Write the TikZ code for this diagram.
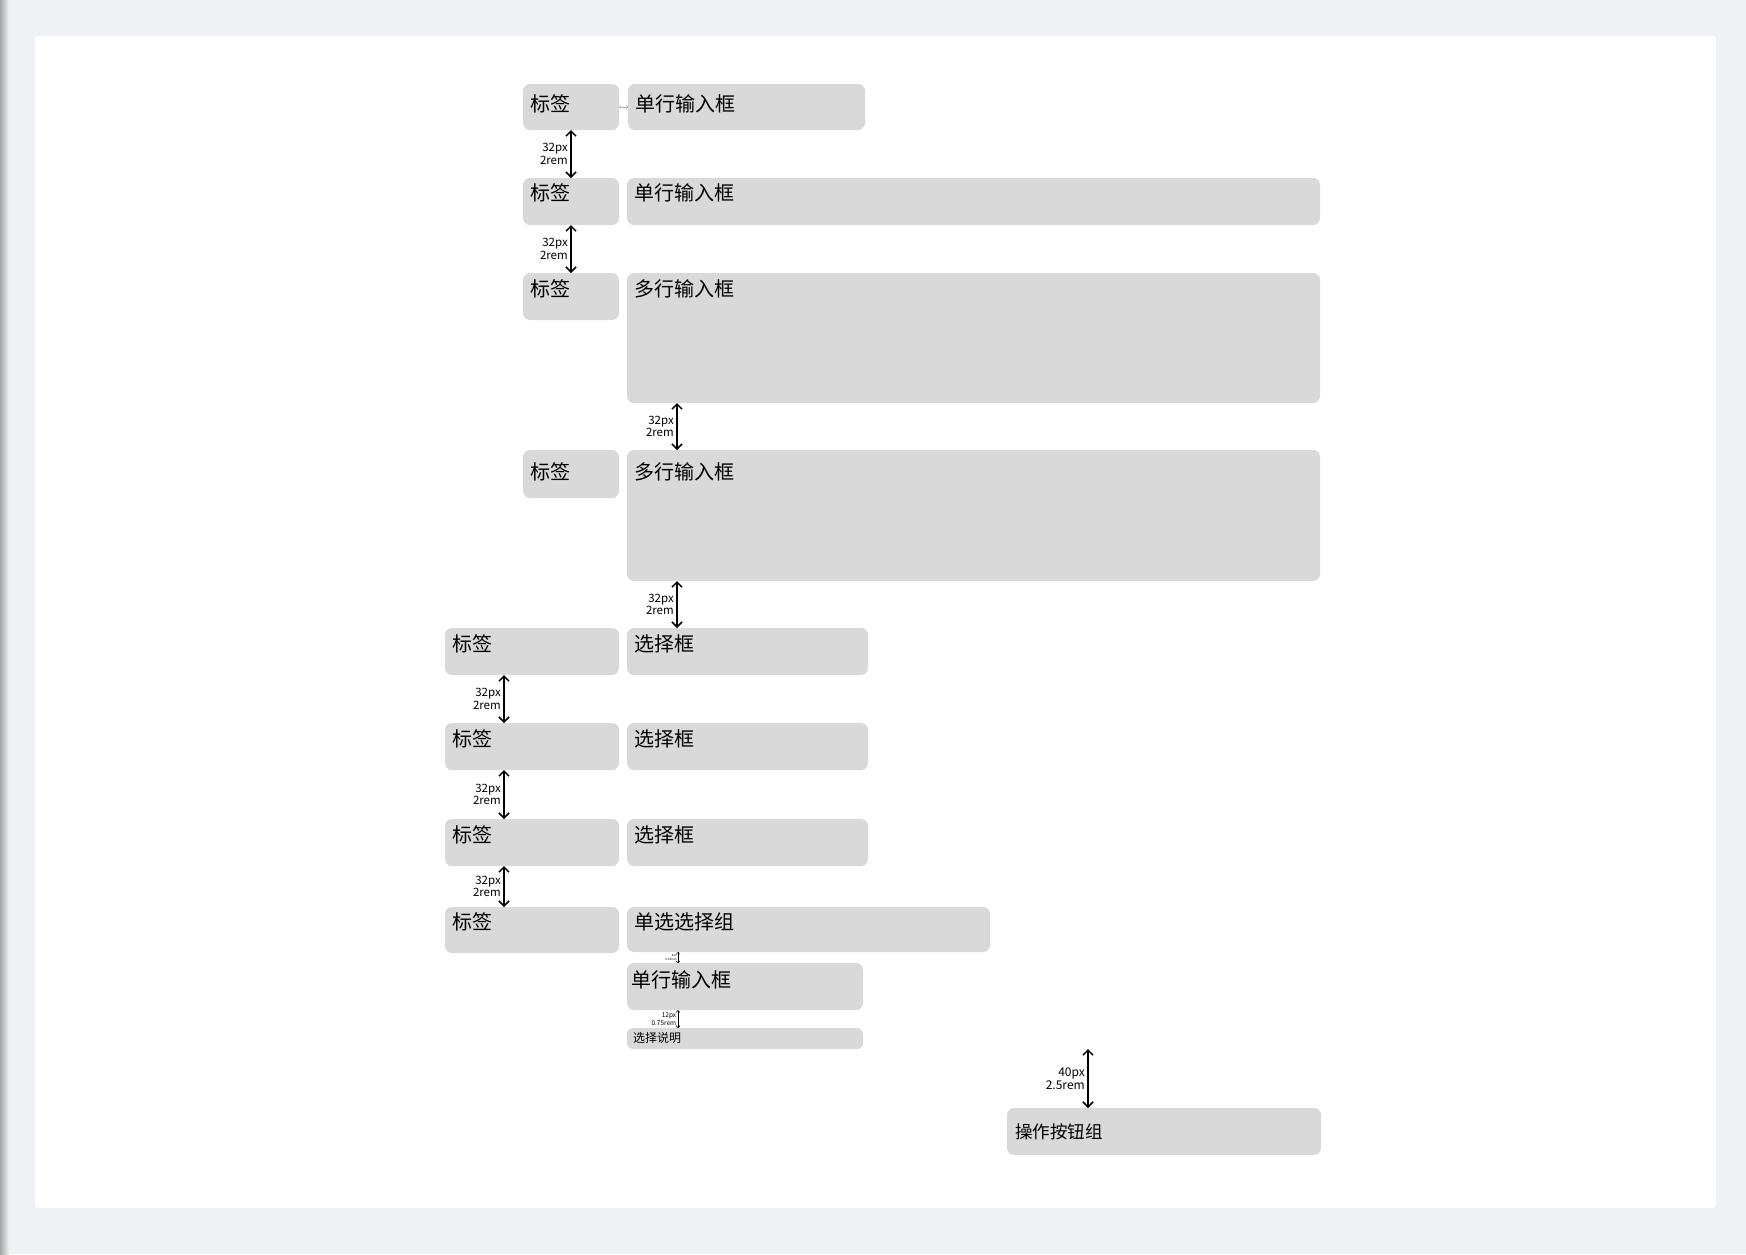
\documentclass[tikz,border=0pt]{standalone}
\usepackage{fontspec}
\setmainfont{Noto Sans CJK SC}
\usetikzlibrary{arrows.meta,calc}
\definecolor{boxgray}{HTML}{D9D9D9}
\definecolor{pagebg}{HTML}{EFF1F5}
\begin{document}
\begin{tikzpicture}[x=1pt,y=-1pt]
        \tikzset{box/.style = {fill=boxgray, rounded corners=7pt, anchor=north west, inner xsep=7pt, inner ysep=0pt, outer sep=0pt, align=left, text height=23.5pt, font=\fontsize{20}{24}\selectfont}}
        \tikzset{gap/.style = {line width=1.5pt, >={Straight Barb[length=5pt,width=10pt]}, <->}}
        \tikzset{smallgap/.style = {line width=0.6pt, >={Straight Barb[length=2pt,width=4pt]}, <->}}
        \tikzset{gaptext/.style = {anchor=east, align=right, inner sep=2.5pt, font=\fontsize{11.5}{12.5}\selectfont}}
        % page and panel
        \useasboundingbox[fill=pagebg] (0,0) rectangle (1746,1254);
        \shade[left color=black!35, right color=pagebg] (0,0) rectangle (9,1254);
        \fill[white, rounded corners=3pt] (35,36) rectangle (1716,1208);
        % rows with short labels
        \node[box, text width=82pt, text height=27.5pt, text depth=18.5pt] (lab1) at (523,84) {标签};
        \node[box, text width=223pt, text height=27.5pt, text depth=18.5pt] (in1) at (628,84) {单行输入框};
        \node[box, text width=82pt, text height=22.5pt, text depth=24.5pt] (lab2) at (523,178) {标签};
        \node[box, text width=679pt, text height=22.5pt, text depth=24.5pt] (in2) at (627,178) {单行输入框};
        \node[box, text width=82pt, text depth=23.5pt] (lab3) at (523,273) {标签};
        \node[box, text width=679pt, text depth=106.5pt] (ta1) at (627,273) {多行输入框};
        \node[box, text width=82pt, text height=29.5pt, text depth=18.5pt] (lab4) at (523,450) {标签};
        \node[box, text width=679pt, text height=29.5pt, text depth=101.5pt] (ta2) at (627,450) {多行输入框};
        % rows with long labels
        \node[box, text width=160pt, text depth=23.5pt] (lab5) at (445,628) {标签};
        \node[box, text width=227pt, text depth=23.5pt] (sel1) at (627,628) {选择框};
        \node[box, text width=160pt, text depth=23.5pt] (lab6) at (445,723) {标签};
        \node[box, text width=227pt, text depth=23.5pt] (sel2) at (627,723) {选择框};
        \node[box, text width=160pt, text depth=23.5pt] (lab7) at (445,819) {标签};
        \node[box, text width=227pt, text depth=23.5pt] (sel3) at (627,819) {选择框};
        \node[box, text width=160pt, text height=22.5pt, text depth=23.5pt] (lab8) at (445,907) {标签};
        \node[box, text width=349pt, text height=22.5pt, text depth=22.5pt] (radio) at (627,907) {单选选择组};
        \node[box, inner xsep=4pt, text width=228pt, text height=24.5pt, text depth=22.5pt] (in3) at (627,963) {单行输入框};
        \node[box, inner xsep=6pt, text width=224pt, text height=14.5pt, text depth=6.5pt, rounded corners=6pt, font=\fontsize{12}{14}\selectfont] (help) at (627,1028) {选择说明};
        \node[box, inner xsep=8pt, text width=298pt, text height=30.5pt, text depth=16.5pt, font=\fontsize{17.5}{20}\selectfont] (btn) at (1007,1108) {操作按钮组};
        % spacing marks
        \draw[smallgap, gray!60, line width=0.4pt] (lab1.east) -- (in1.west);
        \draw[gap] (lab1.south) -- node[gaptext] {32px\\2rem} (lab2.north);
        \draw[gap] (lab2.south) -- node[gaptext] {32px\\2rem} (lab3.north);
        \draw[gap] ($(ta1.south west)+(50,0)$) -- node[gaptext] {32px\\2rem} ($(ta2.north west)+(50,0)$);
        \draw[gap] ($(ta2.south west)+(50,0)$) -- node[gaptext] {32px\\2rem} ($(sel1.north west)+(50,0)$);
        \foreach \a/\b in {lab5/lab6, lab6/lab7, lab7/lab8}
            \draw[gap] ($(\a.south west)+(59,0)$) -- node[gaptext] {32px\\2rem} ($(\b.north west)+(59,0)$);
        \draw[smallgap, line width=0.4pt] ($(radio.south west)+(51,0)$) -- node[gaptext, inner sep=1pt, font=\fontsize{3}{3.6}\selectfont] {4px\\0.25rem} ($(in3.north west)+(51,0)$);
        \draw[smallgap] ($(in3.south west)+(51,0)$) -- node[gaptext, inner sep=1.5pt, font=\fontsize{6.5}{8.5}\selectfont] {12px\\0.75rem} ($(help.north west)+(51,0)$);
        \coordinate (btop) at (1088,1049);
        \draw[gap] (btop) -- node[gaptext, font=\fontsize{12}{12.5}\selectfont] {40px\\2.5rem} ($(btn.north west)+(81,0)$);
\end{tikzpicture}
\end{document}
